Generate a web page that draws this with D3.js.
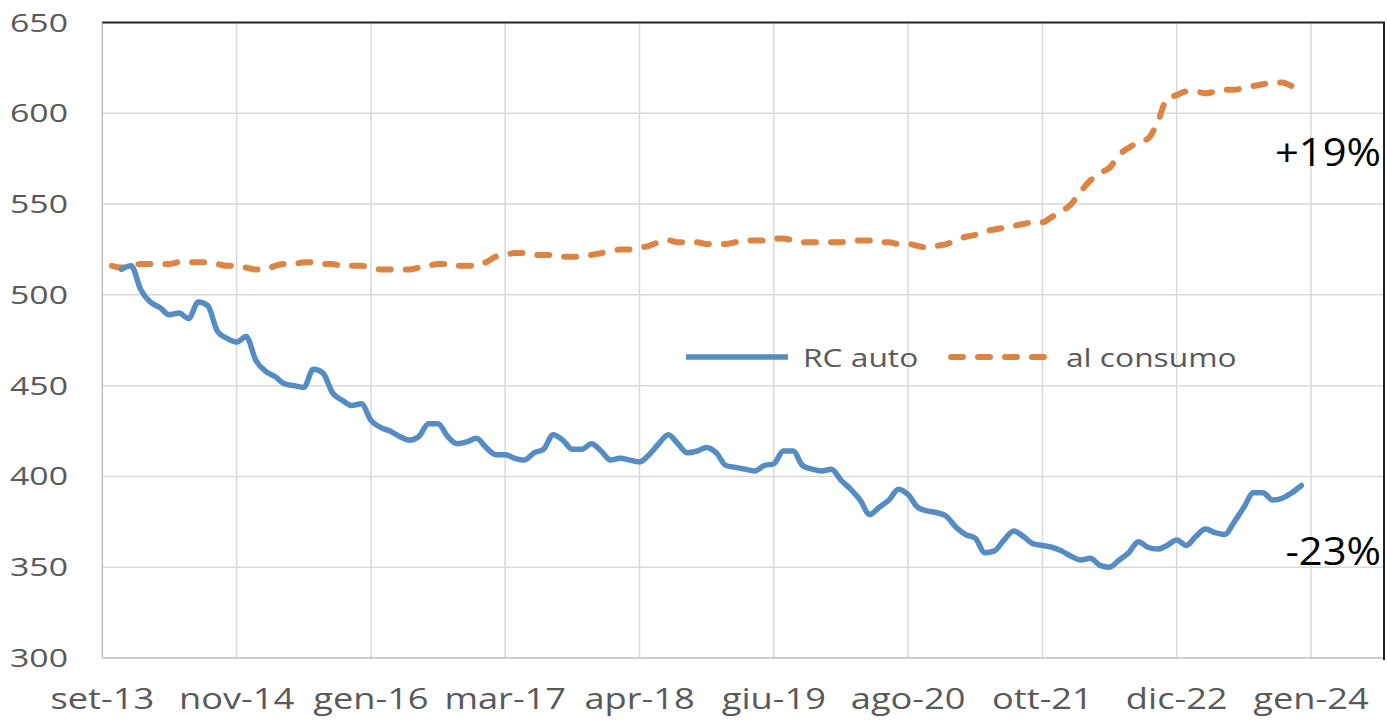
<!DOCTYPE html>
<html>
<head>
<meta charset="utf-8">
<script src="https://cdn.jsdelivr.net/npm/d3@7"></script>
<style>
  body { margin: 0; background: #fff; }
  svg text { font-family: "Open Sans", "Noto Sans", sans-serif; }
</style>
</head>
<body>
<script>
// values, one per month; index 0 = set-13
var rcStart = 2;
var rcAuto = [514, 516, 503, 496, 493, 489, 490, 487, 496, 494,
  480, 476, 474, 477, 464, 458, 455, 451, 450, 449,
  459, 457, 446, 442, 439, 440, 431, 427, 425, 422,
  420, 422, 429, 429, 422, 418, 419, 421, 416, 412,
  412, 410, 409, 413, 415, 423, 420, 415, 415, 418,
  414, 409, 410, 409, 408, 412, 418, 423, 418, 413,
  414, 416, 413, 406, 405, 404, 403, 406, 407, 414,
  414, 406, 404, 403, 404, 398, 393, 387, 379, 383,
  387, 393, 390, 383, 381, 380, 378, 372, 368, 366,
  358, 359, 365, 370, 367, 363, 362, 361, 359, 356,
  354, 355, 351, 350, 354, 358, 364, 361, 360, 362,
  365, 362, 367, 371, 369, 368, 375, 383, 391, 391,
  387, 388, 391, 395];

var consStart = 1;
var alConsumo = [516, 515, 516, 517, 517, 517, 517, 518, 518, 518,
  518, 517, 516, 516, 515, 514, 514, 516, 517, 517,
  518, 518, 517, 517, 516, 516, 516, 515, 514, 514,
  514, 514, 515, 516, 517, 517, 516, 516, 516, 518,
  521, 522, 523, 523, 522, 522, 522, 521, 521, 521,
  522, 523, 524, 525, 525, 526, 527, 529, 530, 529,
  529, 529, 528, 528, 528, 529, 530, 530, 530, 531,
  531, 530, 529, 529, 529, 529, 529, 530, 530, 530,
  529, 529, 528, 528, 527, 526, 527, 528, 530, 532,
  533, 535, 536, 537, 538, 539, 540, 540, 543, 546,
  550, 557, 563, 567, 570, 577, 581, 584, 586, 595,
  608, 610, 612, 612, 611, 612, 613, 613, 614, 615,
  616, 617, 617, 615, 613];

var tickIdx = [0, 14, 28, 42, 56, 70, 84, 98, 112, 126];
var tickLabels = ["set-13", "nov-14", "gen-16", "mar-17", "apr-18",
  "giu-19", "ago-20", "ott-21", "dic-22", "gen-24"];
var yTicks = [300, 350, 400, 450, 500, 550, 600, 650];

var blue = "#548cc3", orange = "#dc8443", grey = "#595959";

var svg = d3.select("body").append("svg")
    .attr("width", 1387)
    .attr("height", 724);

var plotL = 102.3, plotR = 1384, plotT = 22.5, plotB = 658;
var x = d3.scaleLinear().domain([0, 126]).range([plotL, plotL + 9 * 134.3]);
var y = d3.scaleLinear().domain([300, 650]).range([plotB, plotT]);

// text that looks stretched sideways like in the picture
function wideText(g, tx, ty, str, size, sx, anchor, colour, family) {
    var t = g.append("g")
        .attr("transform", "translate(" + tx + "," + ty + ") scale(" + sx + ",1)")
        .append("text")
        .attr("text-anchor", anchor)
        .attr("font-size", size)
        .attr("fill", colour)
        .text(str);
    if (family) t.attr("font-family", family);
    return t;
}

// gridlines
svg.append("g").selectAll("line").data(yTicks.slice(1, -1)).join("line")
    .attr("x1", plotL).attr("x2", plotR)
    .attr("y1", d => y(d)).attr("y2", d => y(d))
    .attr("stroke", "#d9d9d9").attr("stroke-width", 1.5);
svg.append("g").selectAll("line").data(tickIdx.slice(1)).join("line")
    .attr("x1", d => x(d)).attr("x2", d => x(d))
    .attr("y1", plotT).attr("y2", plotB)
    .attr("stroke", "#d9d9d9").attr("stroke-width", 1.5);

// axes lines
svg.append("line").attr("x1", plotL).attr("x2", plotL).attr("y1", plotT).attr("y2", plotB)
    .attr("stroke", "#bfbfbf").attr("stroke-width", 1.5);
svg.append("line").attr("x1", plotL).attr("x2", plotR).attr("y1", plotB).attr("y2", plotB)
    .attr("stroke", "#bfbfbf").attr("stroke-width", 1.5);
svg.append("path")
    .attr("d", "M" + plotL + "," + plotT + "H" + plotR + "V" + (plotB + 2))
    .attr("fill", "none").attr("stroke", "#222").attr("stroke-width", 2);

// tick labels
var yLab = svg.append("g");
yTicks.forEach(function (d) {
    wideText(yLab, 68, y(d) + 9, d, 26, 1.3, "end", grey);
});
var xLab = svg.append("g");
tickIdx.forEach(function (d, i) {
    wideText(xLab, x(d), 709, tickLabels[i], 29, 1.25, "middle", grey);
});

// series
var line = d3.line().curve(d3.curveMonotoneX);

svg.append("path")
    .attr("d", line(alConsumo.map((v, i) => [x(i + consStart), y(v)])))
    .attr("fill", "none").attr("stroke", orange)
    .attr("stroke-width", 6).attr("stroke-linecap", "round")
    .attr("stroke-dasharray", "12,15");

svg.append("path")
    .attr("d", line(rcAuto.map((v, i) => [x(i + rcStart), y(v)])))
    .attr("fill", "none").attr("stroke", blue)
    .attr("stroke-width", 5.5).attr("stroke-linejoin", "round")
    .attr("stroke-linecap", "round");

// legend
var leg = svg.append("g");
leg.append("line").attr("x1", 686).attr("x2", 788).attr("y1", 357).attr("y2", 357)
    .attr("stroke", blue).attr("stroke-width", 5.5);
wideText(leg, 803, 367, "RC auto", 26, 1.22, "start", grey);
leg.append("line").attr("x1", 951).attr("x2", 1046).attr("y1", 357).attr("y2", 357)
    .attr("stroke", orange).attr("stroke-width", 6).attr("stroke-linecap", "round")
    .attr("stroke-dasharray", "12,15");
wideText(leg, 1066, 367, "al consumo", 26, 1.22, "start", grey);

// annotations
wideText(svg, 1381, 166, "+19%", 39, 1.07, "end", "#000", "Liberation Sans, sans-serif");
wideText(svg, 1381, 565, "-23%", 39, 1.07, "end", "#000", "Liberation Sans, sans-serif");
</script>
</body>
</html>
